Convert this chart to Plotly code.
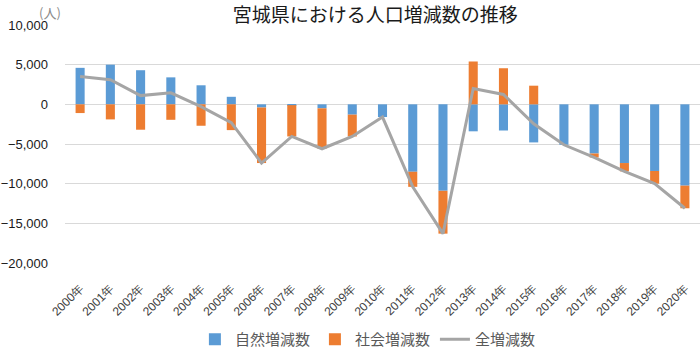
import plotly.graph_objects as go

years = [f"{y}年" for y in range(2000, 2021)]
natural = [4600, 5000, 4300, 3400, 2400, 950, -400, -100, -500, -1300, -1600,
           -8500, -10900, -3400, -3300, -4800, -5100, -6200, -7400, -8400, -10250]
social = [-1100, -1900, -3200, -1950, -2700, -3250, -7000, -3950, -5100, -2750, 0,
          -1900, -5400, 5400, 4550, 2350, 0, -500, -1050, -1600, -2850]
total = [3500, 3100, 1100, 1450, -300, -2300, -7400, -4050, -5600, -4050, -1600,
         -10400, -16300, 2000, 1250, -2450, -5100, -6700, -8450, -10000, -13100]

FONT = "Liberation Sans Narrow, Liberation Sans, Arial, sans-serif"
JP = "Noto Sans CJK JP"

fig = go.Figure()
fig.add_trace(go.Bar(x=years, y=natural, name="自然増減数",
                     marker=dict(color="#5B9BD5", line=dict(width=0)), width=0.3))
fig.add_trace(go.Bar(x=years, y=social, name="社会増減数",
                     marker=dict(color="#ED7D31", line=dict(width=0)), width=0.3))
fig.add_trace(go.Scatter(x=years, y=total, name="全増減数", mode="lines",
                         line=dict(color="#A5A5A5", width=3)))

fig.update_layout(
    width=700, height=356,
    margin=dict(l=65, r=0, t=25, b=89),
    barmode="relative",
    plot_bgcolor="white", paper_bgcolor="white",
    font=dict(family=FONT, size=12, color="#262626"),
    title=dict(text="宮城県における人口増減数の推移", x=0.536, xanchor="center",
               y=0.958, yanchor="middle",
               font=dict(family=JP, size=19, color="#1a1a1a")),
    xaxis=dict(tickangle=-45, showgrid=False, showline=False, ticks="",
               automargin=False, ticklabelstandoff=15,
               tickfont=dict(family=FONT, size=12, color="#404040")),
    yaxis=dict(range=[-20000, 10000], dtick=5000, tickformat=",", showgrid=True,
               gridcolor="#D9D9D9", gridwidth=1, zeroline=True, zerolinecolor="#D9D9D9",
               zerolinewidth=1, ticks="", automargin=False, ticklabelstandoff=16,
               tickfont=dict(family=FONT, size=13, color="#1a1a1a")),
    legend=dict(orientation="h", x=0.477, xanchor="center", y=-0.322, yanchor="middle",
                font=dict(family=JP, size=15, color="#595959"),
                traceorder="normal"),
    annotations=[dict(text="(人)", x=(37 - 65) / 635, xref="paper", y=10000, yref="y",
                      yshift=13, showarrow=False,
                      font=dict(family=JP, size=13, color="#8c8c8c"))],
)

fig.write_html("out.html", config={"displayModeBar": False},
               post_script="document.body.style.margin='0';")
